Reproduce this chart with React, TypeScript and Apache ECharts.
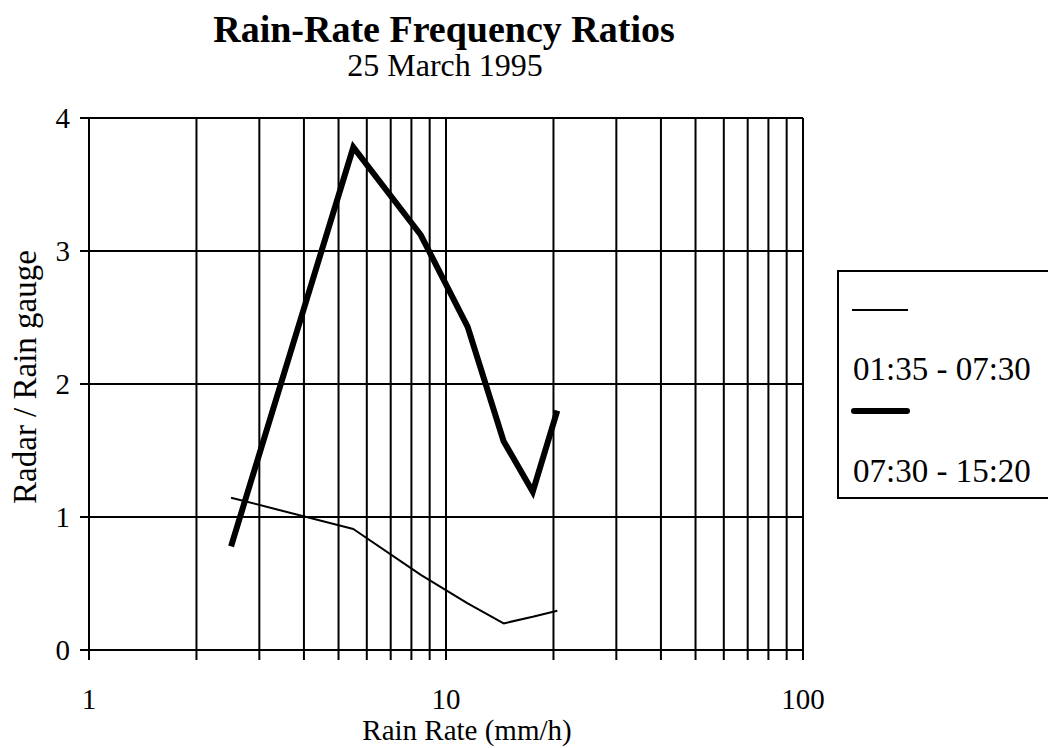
import React, { useEffect, useRef } from "react";
import * as echarts from "echarts";

// Rain-rate bin centres (mm/h)
const rainRate = [2.5, 5.5, 8.5, 11.5, 14.5, 17.5, 20.5];
// Radar / rain-gauge frequency ratios per period
const ratioEarly = [1.145, 0.91, 0.565, 0.35, 0.2, 0.25, 0.295];
const ratioLate = [0.78, 3.78, 3.12, 2.43, 1.57, 1.19, 1.8];

const seriesNames = ["01:35 - 07:30", "07:30 - 15:20"];
const seriesWidths = [2, 6];

// Vertical log-grid positions (decades and their subdivisions)
const logGrid = [1, 2, 3, 4, 5, 6, 7, 8, 9, 10, 20, 30, 40, 50, 60, 70, 80, 90, 100];

const xMin = 1;
const xMax = 100;
const yMin = 0;
const yMax = 4;

const FONT = "'Liberation Serif', 'Times New Roman', serif";

export default function App() {
  const ref = useRef<HTMLDivElement>(null);

  useEffect(() => {
    if (!ref.current) return;
    const chart = echarts.init(ref.current, undefined, { renderer: "svg" });

    const option: any = {
      animation: false,
      backgroundColor: "#fff",
      textStyle: { fontFamily: FONT, color: "#000" },
      title: [
        {
          text: "Rain-Rate Frequency Ratios",
          left: 444,
          textAlign: "center",
          top: 10,
          padding: 0,
          textStyle: {
            fontFamily: FONT,
            fontSize: 38,
            lineHeight: 38,
            fontWeight: "bold",
            color: "#000",
          },
        },
        {
          text: "25 March 1995",
          left: 445,
          textAlign: "center",
          top: 52,
          padding: 0,
          textStyle: {
            fontFamily: FONT,
            fontSize: 32,
            lineHeight: 26,
            fontWeight: "normal",
            color: "#000",
          },
        },
      ],
      grid: {
        left: 89,
        right: 245,
        top: 118,
        bottom: 98,
        containLabel: false,
        outerBoundsMode: "none",
      },
      xAxis: {
        type: "log",
        logBase: 10,
        min: xMin,
        max: xMax,
        name: "Rain Rate (mm/h)",
        nameLocation: "middle",
        nameGap: 68,
        nameMoveOverlap: false,
        nameTextStyle: {
          fontFamily: FONT,
          fontSize: 29,
          lineHeight: 24,
          color: "#000",
          padding: [0, 0, 0, 42],
        },
        axisLine: { show: true, lineStyle: { color: "#000", width: 2 } },
        axisTick: { show: false },
        splitLine: { show: false },
        axisLabel: { fontFamily: FONT, fontSize: 29, lineHeight: 24, color: "#000", margin: 37 },
      },
      yAxis: {
        type: "value",
        min: yMin,
        max: yMax,
        interval: 1,
        name: "Radar / Rain gauge",
        nameLocation: "middle",
        nameGap: 48,
        nameMoveOverlap: false,
        nameTextStyle: { fontFamily: FONT, fontSize: 33, color: "#000", padding: [0, 0, 0, 14] },
        axisLine: { show: true, lineStyle: { color: "#000", width: 2 } },
        axisTick: { show: true, inside: false, length: 9, lineStyle: { color: "#000", width: 2 } },
        splitLine: { show: true, lineStyle: { color: "#000", width: 2 } },
        axisLabel: { fontFamily: FONT, fontSize: 29, color: "#000", margin: 19 },
      },
      series: [
        {
          // vertical log grid lines with their ticks below the axis
          type: "custom",
          silent: true,
          z: 1,
          clip: false,
          data: logGrid.map((v) => [v, yMin]),
          encode: { x: 0, y: 1 },
          renderItem: (_params: any, api: any) => {
            const v = api.value(0);
            const top = api.coord([v, yMax]);
            const bottom = api.coord([v, yMin]);
            return {
              type: "line",
              shape: { x1: top[0], y1: top[1], x2: bottom[0], y2: bottom[1] + 10 },
              style: { stroke: "#000", lineWidth: 2 },
            };
          },
        },
        {
          name: seriesNames[0],
          type: "line",
          z: 3,
          data: rainRate.map((r, i) => [r, ratioEarly[i]]),
          showSymbol: false,
          symbol: "none",
          lineStyle: { color: "#000", width: seriesWidths[0] },
        },
        {
          name: seriesNames[1],
          type: "line",
          z: 4,
          data: rainRate.map((r, i) => [r, ratioLate[i]]),
          showSymbol: false,
          symbol: "none",
          lineStyle: { color: "#000", width: seriesWidths[1], join: "miter" },
        },
      ],
      graphic: [
        {
          type: "group",
          left: 837,
          top: 270,
          children: [
            {
              type: "rect",
              shape: { x: 0, y: 0, width: 240, height: 227 },
              style: { fill: "#fff", stroke: "#000", lineWidth: 2 },
            },
            {
              type: "line",
              shape: { x1: 14, y1: 39, x2: 70, y2: 39 },
              style: { stroke: "#000", lineWidth: seriesWidths[0] },
            },
            {
              type: "text",
              x: 15,
              y: 98,
              style: {
                text: seriesNames[0],
                font: `33px ${FONT}`,
                fill: "#000",
                verticalAlign: "middle",
                align: "left",
              },
            },
            {
              type: "line",
              shape: { x1: 16, y1: 140, x2: 69, y2: 140 },
              style: { stroke: "#000", lineWidth: seriesWidths[1], lineCap: "round" },
            },
            {
              type: "text",
              x: 15,
              y: 200,
              style: {
                text: seriesNames[1],
                font: `33px ${FONT}`,
                fill: "#000",
                verticalAlign: "middle",
                align: "left",
              },
            },
          ],
        },
      ],
    };

    chart.setOption(option);
    return () => chart.dispose();
  }, []);

  return (
    <div
      ref={ref}
      style={{ position: "fixed", left: 0, top: 0, width: 1048, height: 748, background: "#fff" }}
    />
  );
}
